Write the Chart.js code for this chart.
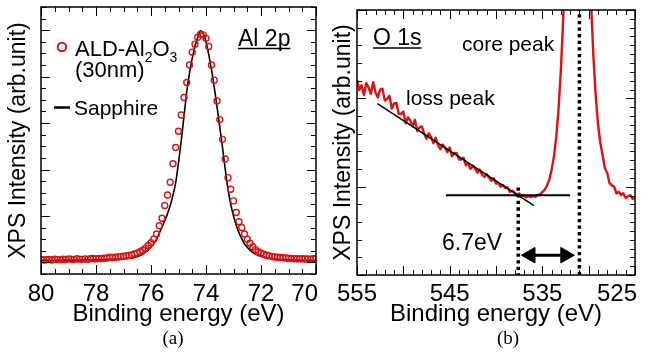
<!DOCTYPE html>
<html>
<head>
<meta charset="utf-8">
<script src="https://cdn.jsdelivr.net/npm/chart.js@4.4.1/dist/chart.umd.min.js"></script>
<style>
html, body { margin: 0; padding: 0; background: #fff; }
#wrap { position: relative; width: 649px; height: 353px; }
.box { position: absolute; top: 0; height: 353px; }
#boxA { left: 0; width: 325px; }
#boxB { left: 325px; width: 324px; }
</style>
</head>
<body>
<div id="wrap">
  <div class="box" id="boxA"><canvas id="chartA"></canvas></div>
  <div class="box" id="boxB"><canvas id="chartB"></canvas></div>
</div>
<script>
// ---- data: (a) Al 2p ----
const alEnergy = [80.0,79.9,79.8,79.7,79.6,79.5,79.4,79.3,79.2,79.1,79.0,78.9,78.8,78.7,78.6,78.5,78.4,78.3,78.2,78.1,
  78.0,77.9,77.8,77.7,77.6,77.5,77.4,77.3,77.2,77.1,77.0,76.9,76.8,76.7,76.6,76.5,76.4,76.3,76.2,76.1,
  76.0,75.9,75.8,75.7,75.6,75.5,75.4,75.3,75.2,75.1,75.0,74.9,74.8,74.7,74.6,74.5,74.4,74.3,74.2,74.1,
  74.0,73.9,73.8,73.7,73.6,73.5,73.4,73.3,73.2,73.1,73.0,72.9,72.8,72.7,72.6,72.5,72.4,72.3,72.2,72.1,
  72.0,71.9,71.8,71.7,71.6,71.5,71.4,71.3,71.2,71.1,71.0,70.9,70.8,70.7,70.6,70.5,70.4,70.3,70.2,70.1,70.0];
const aldCounts = [1.25,1.2,1.23,1.26,1.21,1.28,1.24,1.22,1.27,1.25,1.3,1.27,1.24,1.31,1.28,1.26,1.3,1.27,1.31,1.33,
  1.3,1.35,1.33,1.36,1.38,1.45,1.42,1.44,1.47,1.5,1.53,1.56,1.6,1.65,1.72,1.8,1.92,2.05,2.22,2.45,
  2.7,3.0,3.45,4.15,4.8,5.9,6.8,7.9,9.5,10.9,12.3,13.7,15.2,16.5,18.0,19.1,19.8,20.4,20.65,20.6,
  20.3,19.6,18.0,16.7,14.9,13.3,11.6,9.9,8.3,7.3,6.3,5.3,4.5,4.0,3.45,3.0,2.65,2.35,2.1,1.92,
  1.8,1.7,1.62,1.56,1.5,1.47,1.44,1.42,1.4,1.38,1.36,1.33,1.32,1.31,1.3,1.32,1.29,1.3,1.28,1.31,1.3];
const sapphireCounts = [1.18,1.18,1.18,1.18,1.18,1.19,1.19,1.19,1.19,1.2,1.2,1.2,1.2,1.2,1.21,1.21,1.21,1.22,1.22,1.22,
  1.23,1.23,1.24,1.25,1.25,1.26,1.27,1.28,1.29,1.3,1.32,1.34,1.36,1.39,1.43,1.5,1.6,1.72,1.88,2.08,
  2.32,2.62,3.0,3.5,4.05,4.6,5.2,5.9,6.8,7.9,9.6,11.5,13.6,15.7,17.3,18.6,19.6,20.4,20.95,20.7,
  20.0,18.9,17.6,16.1,14.4,12.7,10.9,9.0,7.3,6.0,5.0,4.2,3.55,3.05,2.6,2.3,2.05,1.85,1.72,1.62,
  1.53,1.46,1.4,1.36,1.32,1.29,1.27,1.25,1.24,1.23,1.22,1.21,1.2,1.2,1.19,1.19,1.18,1.18,1.18,1.18,1.18];
const alTicks = [80, 78, 76, 74, 72, 70];

// ---- data: (b) O 1s ----
const oEnergy = [555,554.75,554.5,554.25,554,553.75,553.5,553.25,553,552.75,552.5,552.25,552,551.75,551.5,551.25,
  551,550.75,550.5,550.25,550,549.75,549.5,549.25,549,548.75,548.5,548.25,548,547.75,547.5,547.25,
  547,546.75,546.5,546.25,546,545.75,545.5,545.25,545,544.75,544.5,544.25,544,543.75,543.5,543.25,
  543,542.75,542.5,542.25,542,541.75,541.5,541.25,541,540.75,540.5,540.25,540,539.75,539.5,539.25,
  539,538.75,538.5,538.25,538,537.75,537.5,537.25,537,536.75,536.5,536.25,536,535.75,535.5,535.25,
  535,534.75,534.5,534.25,534,533.75,533.5,533.25,533,532.75,532.5,532.25,532,531.75,531.5,531.25,
  531,530.75,530.5,530.25,530,529.75,529.5,529.25,529,528.75,528.5,528.25,528,527.75,527.5,527.25,
  527,526.75,526.5,526.25,526,525.75,525.5,525.25,525];
const oCounts = [22.1,20.94,21.48,20.38,21.72,21.24,20.51,21.83,20.65,20.11,21.0,21.1,19.74,19.92,20.28,18.83,
  19.42,19.48,18.25,18.21,18.51,17.18,17.86,17.47,16.82,17.57,16.3,16.72,16.82,15.96,15.43,16.04,
  15.61,14.92,15.54,14.69,14.23,14.76,14.4,13.91,14.43,13.43,13.83,13.82,13.08,13.06,13.28,12.41,
  12.62,12.0,12.38,12.07,11.58,11.93,11.36,11.09,11.42,11.03,10.67,10.96,10.36,10.43,9.99,10.2,
  9.85,9.91,9.4,9.53,9.34,9.09,9.24,8.92,9.0,8.8,8.94,8.82,8.93,8.84,9.05,9.13,
  9.38,9.65,10.1,10.8,11.9,13.4,15.6,18.8,23.2,29,36,45,55,66,75,80,
  79,72,62,50,40,31,25,20.5,17.2,15.0,13.58,12.08,11.57,10.39,10.16,9.99,
  9.23,9.42,9.06,9.26,8.71,8.93,9.03,8.62,8.84];
const oTicks = [555, 545, 535, 525];
// guide lines drawn over the spectrum
const slopeX = [552.8, 535.9], slopeY = [19.4, 7.84];
const flatX = [545.4, 532.0], flatY = [9.04, 9.04];
const onsetX = [537.6, 537.6], onsetY = [9.9, 0];
const coreX = [531.0, 531.0], coreY = [0, 30];
const shaftX = [537.0, 531.8], shaftY = [2.24, 2.24];
const headX = [536.28, 532.52], headY = [2.24, 2.24];

const FONT = "'Liberation Sans', Arial, Helvetica, sans-serif";
const RED = '#dd1111';
Chart.defaults.font.family = FONT;
Chart.defaults.color = '#000';

const pts = (xs, ys) => xs.map((x, i) => ({ x: x, y: ys[i] }));

function isMultiple(v, base, step) {
  const q = (v - base) / step;
  return Math.abs(q - Math.round(q)) < 1e-6;
}

// inward ticks on all four sides, frame and x tick labels
function frameTicks(cfg) {
  return {
    id: 'frameTicks',
    afterDraw(chart) {
      const { ctx, chartArea: a, scales: { x, y } } = chart;
      ctx.save();
      ctx.strokeStyle = '#000';
      ctx.lineWidth = 1.5;
      ctx.strokeRect(a.left, a.top, a.right - a.left, a.bottom - a.top);
      ctx.lineWidth = 1;
      ctx.beginPath();
      for (let v = cfg.xMin; v <= cfg.xMax + 1e-6; v += cfg.xStep) {
        const px = Math.round(x.getPixelForValue(v)) + 0.5;
        const len = isMultiple(v, cfg.xMin, cfg.xMajor) ? 9 : 5;
        ctx.moveTo(px, a.bottom); ctx.lineTo(px, a.bottom - len);
        ctx.moveTo(px, a.top); ctx.lineTo(px, a.top + len);
      }
      for (let v = cfg.yMin; v <= cfg.yMax + 1e-6; v += 1) {
        const py = Math.round(y.getPixelForValue(v)) + 0.5;
        const major = isMultiple(v, cfg.yMajorStart, cfg.yMajor);
        if (isMultiple(v, cfg.yMajorStart, cfg.yLeftStep)) {
          ctx.moveTo(a.left, py); ctx.lineTo(a.left + (major ? 9 : 5), py);
        }
        ctx.moveTo(a.right, py); ctx.lineTo(a.right - (major ? 9 : 5), py);
      }
      ctx.stroke();
      // tick labels; the last one is kept inside the frame edge
      ctx.fillStyle = '#000';
      ctx.font = '24px ' + FONT;
      ctx.textBaseline = 'alphabetic';
      cfg.labels.forEach((v, i) => {
        let px = x.getPixelForValue(v);
        if (i === cfg.labels.length - 1) {
          ctx.textAlign = 'right';
          px += 2;
        } else {
          ctx.textAlign = 'center';
        }
        ctx.fillText(String(v), px, 301);
      });
      ctx.restore();
    }
  };
}

function underlined(ctx, text, x, base, size) {
  ctx.font = size + 'px ' + FONT;
  ctx.fillText(text, x, base);
  const w = ctx.measureText(text).width;
  ctx.lineWidth = 1.5;
  ctx.beginPath();
  ctx.moveTo(x, base + 3); ctx.lineTo(x + w, base + 3);
  ctx.stroke();
}

const textsA = {
  id: 'textsA',
  afterDraw(chart) {
    const ctx = chart.ctx;
    ctx.save();
    ctx.fillStyle = '#000';
    ctx.textBaseline = 'alphabetic';
    ctx.textAlign = 'left';
    // legend marker
    ctx.strokeStyle = RED;
    ctx.lineWidth = 2;
    ctx.beginPath();
    ctx.arc(62, 47, 4.2, 0, Math.PI * 2);
    ctx.stroke();
    // ALD-Al2O3 with subscripts
    let x = 75;
    const parts = [['ALD-Al', 22, 0], ['2', 14, 6], ['O', 22, 0], ['3', 14, 6]];
    parts.forEach(p => {
      ctx.font = p[1] + 'px ' + FONT;
      ctx.fillText(p[0], x, 55.5 + p[2]);
      x += ctx.measureText(p[0]).width;
    });
    ctx.font = '22px ' + FONT;
    ctx.fillText('(30nm)', 75, 77);
    // sapphire legend
    ctx.strokeStyle = '#000';
    ctx.lineWidth = 2.5;
    ctx.beginPath();
    ctx.moveTo(54, 107.5); ctx.lineTo(70, 107.5);
    ctx.stroke();
    ctx.font = '21px ' + FONT;
    ctx.fillText('Sapphire', 74, 115);
    underlined(ctx, 'Al 2p', 238, 45.5, 23);
    ctx.font = '19px "Liberation Serif", "Times New Roman", serif';
    ctx.textAlign = 'center';
    ctx.fillText('(a)', 173, 344);
    ctx.restore();
  }
};

const textsB = {
  id: 'textsB',
  afterDraw(chart) {
    const ctx = chart.ctx;
    ctx.save();
    ctx.fillStyle = '#000';
    ctx.strokeStyle = '#000';
    ctx.textBaseline = 'alphabetic';
    ctx.textAlign = 'left';
    underlined(ctx, 'O 1s', 48, 45, 23);
    ctx.font = '21px ' + FONT;
    ctx.fillText('core peak', 137, 51);
    ctx.fillText('loss peak', 81, 104.5);
    ctx.font = '23px ' + FONT;
    ctx.fillText('6.7eV', 117, 249.5);
    ctx.font = '19px "Liberation Serif", "Times New Roman", serif';
    ctx.textAlign = 'center';
    ctx.fillText('(b)', 183, 344);
    ctx.restore();
  }
};

function xAxis(min, max, height) {
  return {
    type: 'linear', reverse: true, min: min, max: max,
    grid: { display: false, drawTicks: false },
    border: { display: false },
    ticks: { display: false },
    title: { display: true, text: 'Binding energy (eV)', font: { size: 24 }, color: '#000', padding: { top: 0, bottom: 24 } },
    afterFit: s => { s.height = height; s.paddingLeft = 0; s.paddingRight = 0; }
  };
}

function yAxis(max, width) {
  return {
    min: 0, max: max,
    grid: { display: false, drawTicks: false },
    border: { display: false },
    ticks: { display: false },
    title: { display: true, text: 'XPS Intensity (arb.unit)', font: { size: 23 }, color: '#000', padding: { top: 5, bottom: 0 } },
    afterFit: s => { s.width = width; }
  };
}

const common = {
  animation: false,
  responsive: true,
  maintainAspectRatio: false,
  devicePixelRatio: 1,
  plugins: { legend: { display: false }, tooltip: { enabled: false } },
  events: []
};

new Chart(document.getElementById('chartA'), {
  type: 'line',
  data: {
    datasets: [
      {
        label: 'ALD-Al2O3 (30nm)',
        data: pts(alEnergy, aldCounts),
        showLine: false,
        pointStyle: 'circle',
        pointRadius: 3,
        pointBorderWidth: 1.4,
        pointBorderColor: RED,
        pointBackgroundColor: 'rgba(0,0,0,0)',
        order: 1
      },
      {
        label: 'Sapphire',
        data: pts(alEnergy, sapphireCounts),
        borderColor: '#000',
        borderWidth: 1.6,
        pointRadius: 0,
        tension: 0.2,
        order: 2
      }
    ]
  },
  options: Object.assign({}, common, {
    layout: { padding: { top: 7, right: 9, left: 0, bottom: 0 } },
    scales: { x: xAxis(70, 80, 79), y: yAxis(23, 41) }
  }),
  plugins: [frameTicks({ xMin: 70, xMax: 80, xStep: 0.5, xMajor: 2, yMin: 0, yMax: 23, yMajor: 4, yMajorStart: 1, yLeftStep: 1, labels: alTicks }), textsA]
});

new Chart(document.getElementById('chartB'), {
  type: 'line',
  data: {
    datasets: [
      { label: 'O 1s', data: pts(oEnergy, oCounts), borderColor: RED, borderWidth: 2.4, borderJoinStyle: 'round', pointRadius: 0, tension: 0, order: 5 },
      { label: 'slope', data: pts(slopeX, slopeY), borderColor: '#000', borderWidth: 1.5, pointRadius: 0, order: 1 },
      { label: 'flat', data: pts(flatX, flatY), borderColor: '#000', borderWidth: 2, pointRadius: 0, order: 1 },
      { label: 'onset', data: pts(onsetX, onsetY), borderColor: '#000', borderWidth: 3.5, borderDash: [3.3, 3.3], borderCapStyle: 'butt', pointRadius: 0, order: 1 },
      { label: 'core', data: pts(coreX, coreY), borderColor: '#000', borderWidth: 3.5, borderDash: [3.3, 3.3], borderCapStyle: 'butt', pointRadius: 0, order: 1 },
      { label: 'shaft', data: pts(shaftX, shaftY), borderColor: '#000', borderWidth: 3, pointRadius: 0, order: 1 },
      {
        label: 'heads', data: pts(headX, headY), showLine: false,
        pointStyle: 'triangle', pointRadius: 9, pointRotation: [-90, 90],
        pointBackgroundColor: '#000', pointBorderColor: '#000', pointBorderWidth: 1, order: 0
      }
    ]
  },
  options: Object.assign({}, common, {
    layout: { padding: { top: 7, right: 14, left: 0, bottom: 0 } },
    scales: { x: xAxis(525, 555, 78), y: yAxis(30, 32) }
  }),
  plugins: [frameTicks({ xMin: 525, xMax: 555, xStep: 1, xMajor: 5, yMin: 0, yMax: 30, yMajor: 10, yMajorStart: 0, yLeftStep: 2, labels: oTicks }), textsB]
});
</script>
</body>
</html>
